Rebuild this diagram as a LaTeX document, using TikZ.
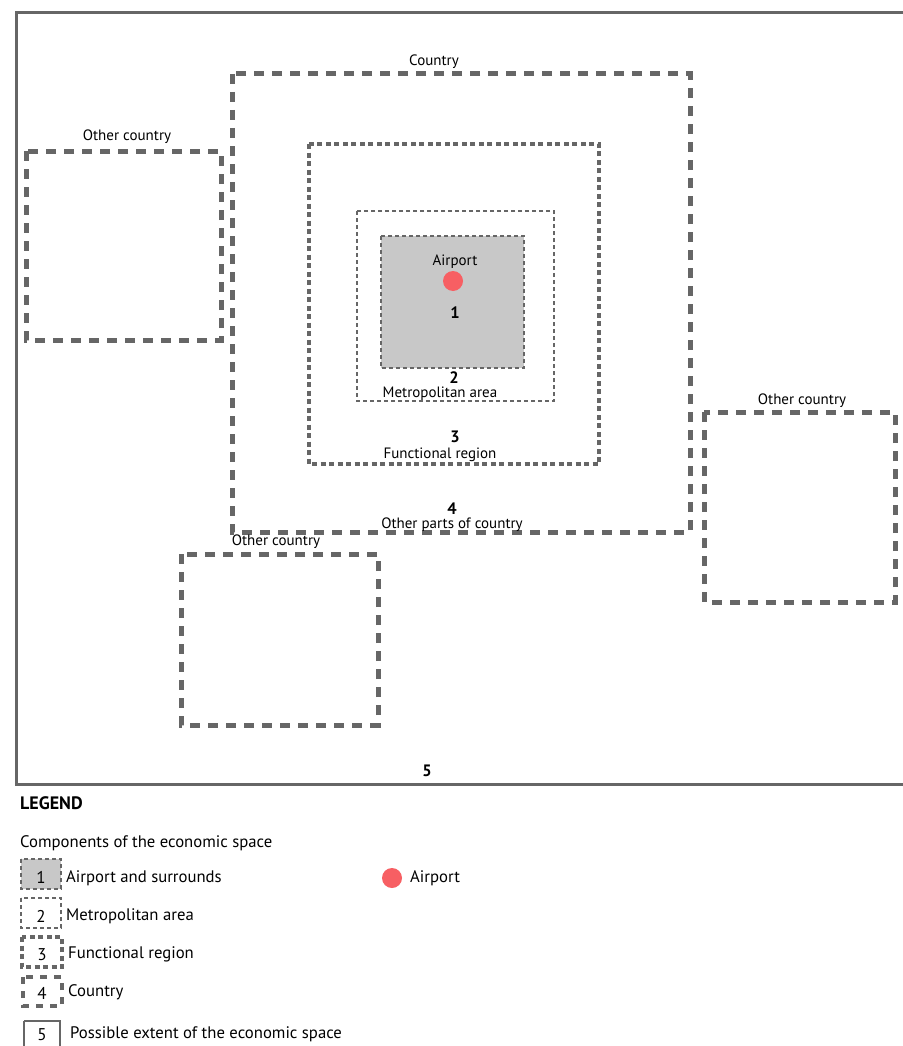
\documentclass[tikz,border=0pt]{standalone}
\usepackage{fontspec}
\setmainfont{PT Sans}
\definecolor{linegray}{HTML}{666666}
\definecolor{portgray}{HTML}{C8C8C8}
\definecolor{portred}{HTML}{F75F63}
\tikzset{
	countrybox/.style={draw=linegray,line width=5pt,dash pattern=on 10pt off 8pt},
	regionbox/.style={draw=linegray,line width=3.5pt,dash pattern=on 5pt off 3.5pt},
	metrobox/.style={draw=linegray,line width=1.3pt,dash pattern=on 4pt off 3pt},
	portbox/.style={draw=linegray,fill=portgray,line width=1.2pt,dash pattern=on 4pt off 3pt},
	extentbox/.style={draw=linegray,line width=3pt},
	lbl/.style={inner sep=0pt,font=\fontsize{15}{17}\selectfont},
	num/.style={inner sep=0pt,font=\fontsize{16.5}{17}\selectfont\bfseries},
	legnum/.style={inner sep=0pt,font=\fontsize{17}{19}\selectfont},
	legtext/.style={inner sep=0pt,anchor=west,font=\fontsize{16.7}{19}\selectfont}
}
\begin{document}
\begin{tikzpicture}[x=1pt,y=-1pt]
	\useasboundingbox[fill=white] (0,0) rectangle (902,1046);
	% possible extent of the economic space
	\draw[extentbox] (910,13) -- (16,13) -- (16,784) -- (910,784);
	% nested components
	\draw[countrybox] (232,74) rectangle (690,532);
	\draw[regionbox] (309,144) rectangle (599,464);
	\draw[metrobox] (357,211) rectangle (554,401);
	\draw[portbox] (381,236) rectangle (524,368);
	% other countries
	\draw[countrybox] (26,151) rectangle (221,340);
	\draw[countrybox] (704,412) rectangle (895,602);
	\draw[countrybox] (181,554) rectangle (378,725);
	% texts
	\draw (434,62) node [lbl] (country) {Country};
	\draw (127,137) node [lbl] (oc1) {Other country};
	\draw (802,401) node [lbl] (oc2) {Other country};
	\draw (276,542) node [lbl] (oc3) {Other country};
	\draw (453,281) node [circle,fill=portred,minimum size=20pt,inner sep=0pt] (port) {};
	\draw (455,262) node [lbl] (portlbl) {Airport};
	\draw (455,313) node [num] (n1) {1};
	\draw (454,378) node [num] (n2) {2};
	\draw (440,394) node [lbl] (metro) {Metropolitan area};
	\draw (455,437) node [num] (n3) {3};
	\draw (440,455) node [lbl] (region) {Functional region};
	\draw (452,509) node [num] (n4) {4};
	\draw (452,525) node [lbl] (parts) {Other parts of country};
	\draw (427,771) node [num] (n5) {5};
	% legend
	\draw (20,803) node [legtext,font=\fontsize{18}{20}\selectfont\bfseries] (legend) {LEGEND};
	\draw (20,843) node [legtext] (comp) {Components of the economic space};
	\draw[portbox] (21,859) rectangle (61,889);
	\draw (41,877) node [legnum] (l1) {1};
	\draw (66,878) node [legtext] (t1) {Airport and surrounds};
	\draw[metrobox] (21,898) rectangle (61,928);
	\draw (41,916) node [legnum] (l2) {2};
	\draw (66,916) node [legtext] (t2) {Metropolitan area};
	\draw[regionbox] (22,937) rectangle (62,967);
	\draw (42,955) node [legnum] (l3) {3};
	\draw (68,954) node [legtext] (t3) {Functional region};
	\draw[countrybox,dash pattern=on 7pt off 7pt,line width=4.5pt] (23,977) rectangle (62,1006);
	\draw (42,993) node [legnum] (l4) {4};
	\draw (68,992) node [legtext] (t4) {Country};
	\draw[extentbox,line width=2.2pt] (24,1021) -- (24,1050) (60,1050) -- (60,1021) -- (24,1021);
	\draw (42,1035) node [legnum] (l5) {5};
	\draw (70,1034) node [legtext] (t5) {Possible extent of the economic space};
	\draw (392,878) node [circle,fill=portred,minimum size=20pt,inner sep=0pt] (lport) {};
	\draw (410,878) node [legtext] (tport) {Airport};
\end{tikzpicture}
\end{document}
